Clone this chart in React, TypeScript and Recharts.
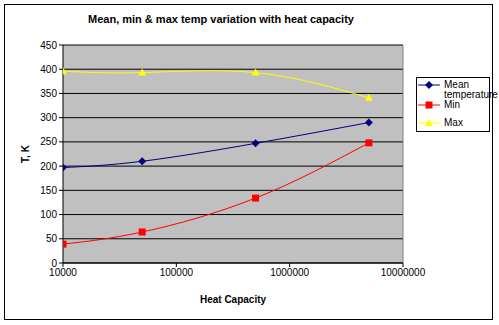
import { LineChart, Line, XAxis, YAxis, CartesianGrid, ReferenceLine } from 'recharts'

const heatCapacity = [10000, 50000, 500000, 5000000]
const meanTemp = [197, 210, 247, 290]
const minTemp = [39, 64, 134, 248]
const maxTemp = [396, 393, 393, 341]

const xTicks = [10000, 100000, 1000000, 10000000]
const yTicks = [0, 50, 100, 150, 200, 250, 300, 350, 400, 450]

const data = heatCapacity.map((hc, i) => ({
    hc,
    mean: meanTemp[i],
    min: minTemp[i],
    max: maxTemp[i],
}))

const FONT = '"Liberation Sans", Arial, sans-serif'

const Diamond = (props: any) => {
    const { cx, cy, fill } = props
    if (cx == null || cy == null) return null
    return <polygon points={`${cx},${cy - 4} ${cx + 4},${cy} ${cx},${cy + 4} ${cx - 4},${cy}`} fill={fill} />
}

const Square = (props: any) => {
    const { cx, cy, fill } = props
    if (cx == null || cy == null) return null
    return <rect x={cx - 3.5} y={cy - 3.5} width={7} height={7} fill={fill} />
}

const Triangle = (props: any) => {
    const { cx, cy, fill } = props
    if (cx == null || cy == null) return null
    return <polygon points={`${cx},${cy - 4} ${cx + 4},${cy + 3} ${cx - 4},${cy + 3}`} fill={fill} />
}

const legendItems = [
    { name: 'Mean temperature', color: '#000080', shape: 'diamond', top: 2 },
    { name: 'Min', color: '#FF0000', shape: 'square', top: 22 },
    { name: 'Max', color: '#FFFF00', shape: 'triangle', top: 40 },
]

function LegendBox() {
    return (
        <div style={{ position: 'absolute', left: 416, top: 77, width: 74, height: 55, border: '1px solid #000', boxSizing: 'border-box', background: '#fff', fontFamily: FONT, fontSize: 10, color: '#000' }}>
            {legendItems.map((item) => (
                <div key={item.name} style={{ position: 'absolute', left: 1, top: item.top, display: 'flex', alignItems: 'flex-start' }}>
                    <svg width={22} height={10} style={{ flex: 'none' }}>
                        <line x1={0} y1={5} x2={22} y2={5} stroke={item.color} strokeWidth={1} />
                        {item.shape === 'diamond' && <polygon points="11,1 15,5 11,9 7,5" fill={item.color} />}
                        {item.shape === 'square' && <rect x={7.5} y={1.5} width={7} height={7} fill={item.color} />}
                        {item.shape === 'triangle' && <polygon points="11,1 15,8 7,8" fill={item.color} />}
                    </svg>
                    <span style={{ marginLeft: 4, width: 46, lineHeight: '10px' }}>{item.name}</span>
                </div>
            ))}
        </div>
    )
}

export default function App() {
    return (
        <div style={{ position: 'absolute', left: 0, top: 0, width: 499, height: 325, background: '#fff' }}>
            <div style={{ position: 'absolute', left: 4, top: 4, width: 489, height: 316, border: '1px solid #000', boxSizing: 'border-box' }} />
            <div style={{ position: 'absolute', left: 0, top: 13, width: 442, textAlign: 'center', fontFamily: FONT, fontSize: 11, fontWeight: 'bold' }}>
                Mean, min &amp; max temp variation with heat capacity
            </div>
            <div style={{ position: 'absolute', left: 0, top: 0 }}>
                <LineChart width={499} height={325} data={data} margin={{ top: 45, right: 96, left: 13, bottom: 22 }}>
                    <CartesianGrid vertical={false} stroke="#000" fill="#C0C0C0" />
                    <XAxis
                        dataKey="hc"
                        type="number"
                        scale="log"
                        domain={[10000, 10000000]}
                        ticks={xTicks}
                        allowDataOverflow
                        height={40}
                        tickSize={4}
                        stroke="#000"
                        tick={{ fill: '#000', fontSize: 10, fontFamily: FONT }}
                        tickFormatter={(v: number) => String(v)}
                        label={{ value: 'Heat Capacity', position: 'insideBottom', offset: 0, fill: '#000', fontSize: 10, fontWeight: 'bold', fontFamily: FONT }}
                    />
                    <YAxis
                        type="number"
                        domain={[0, 450]}
                        ticks={yTicks}
                        width={50}
                        tickSize={4}
                        stroke="#000"
                        tick={{ fill: '#000', fontSize: 10, fontFamily: FONT }}
                        label={{
                            content: (p: any) => {
                                const vb = p.viewBox || { x: 13, y: 45, width: 50, height: 218 }
                                const x = vb.x + 12
                                const y = vb.y + vb.height / 2
                                return (
                                    <text x={x} y={y} transform={`rotate(-90 ${x} ${y})`} textAnchor="middle" dominantBaseline="central" fontFamily={FONT} fontSize={10} fontWeight="bold" fill="#000">
                                        T, K
                                    </text>
                                )
                            },
                        }}
                    />
                    <ReferenceLine x={10000000} stroke="#808080" strokeWidth={1} />
                    <Line type="natural" dataKey="mean" name="Mean temperature" stroke="#000080" strokeWidth={1} fill="#000080" dot={<Diamond fill="#000080" />} activeDot={false} isAnimationActive={false} />
                    <Line type="natural" dataKey="min" name="Min" stroke="#FF0000" strokeWidth={1} fill="#FF0000" dot={<Square fill="#FF0000" />} activeDot={false} isAnimationActive={false} />
                    <Line type="natural" dataKey="max" name="Max" stroke="#FFFF00" strokeWidth={1} fill="#FFFF00" dot={<Triangle fill="#FFFF00" />} activeDot={false} isAnimationActive={false} />
                </LineChart>
            </div>
            <LegendBox />
        </div>
    )
}
